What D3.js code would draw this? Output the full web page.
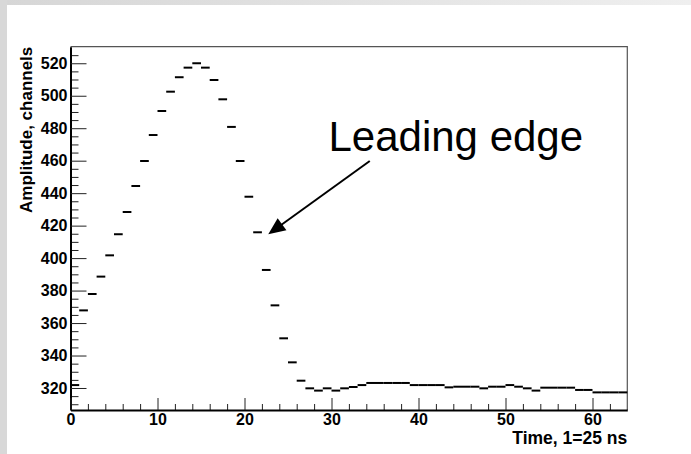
<!DOCTYPE html>
<html>
<head>
<meta charset="utf-8">
<script src="https://cdn.jsdelivr.net/npm/d3@7"></script>
<style>
  html, body { margin: 0; padding: 0; background: #ffffff; }
  svg { display: block; }
  text { font-family: "Liberation Sans", Arial, Helvetica, sans-serif; fill: #000; }
</style>
</head>
<body>
<svg id="chart" width="691" height="454"></svg>
<script>
// Time bins (1 bin = 25 ns), low edges 0..63
const binEdges = d3.range(0, 64);
// Mean amplitude per bin, ADC channels
const amplitudes = [
  321.8, 367.8, 377.9, 388.6, 401.7, 414.7, 428.4, 444.4, 459.8, 475.8,
  490.6, 502.5, 511.4, 517.3, 520.0, 517.3, 509.7, 497.8, 480.8, 459.8,
  437.8, 415.9, 392.7, 370.9, 350.6, 335.8, 324.5, 319.8, 318.4, 319.8,
  318.4, 319.8, 320.6, 321.8, 323.1, 323.1, 323.1, 323.1, 323.1, 321.8,
  321.8, 321.8, 321.8, 320.4, 320.8, 320.8, 320.8, 319.8, 320.8, 320.8,
  321.8, 320.8, 319.8, 318.4, 320.2, 320.2, 320.2, 320.2, 318.8, 318.8,
  317.3, 317.3, 317.3, 317.3
];
const xMajorTicks = [0, 10, 20, 30, 40, 50, 60];
const yMajorTicks = [320, 340, 360, 380, 400, 420, 440, 460, 480, 500, 520];
const xTitle = "Time, 1=25 ns";
const yTitle = "Amplitude, channels";
// Annotation in data units: label start and arrow from/to
const noteText = "Leading edge";
const notePos = [30.0, 466.2];
const arrowFrom = [34.4, 459.8];
const arrowTo = [22.73, 414.7];

const svg = d3.select("#chart");
const W = 691, H = 454;

// page backdrop: grey strips along the top and left
const defs = svg.append("defs");
const grad = defs.append("linearGradient").attr("id", "topStrip")
  .attr("x1", "0%").attr("x2", "100%").attr("y1", "0%").attr("y2", "0%");
grad.append("stop").attr("offset", "0%").attr("stop-color", "#d6d6d6");
grad.append("stop").attr("offset", "100%").attr("stop-color", "#efefef");
svg.append("rect").attr("x", 0).attr("y", 0).attr("width", W).attr("height", H).attr("fill", "#ffffff");
svg.append("rect").attr("x", 0).attr("y", 0).attr("width", W).attr("height", 5).attr("fill", "url(#topStrip)");
svg.append("rect").attr("x", 0).attr("y", 0).attr("width", 7).attr("height", H).attr("fill", "#d8d8d8");

const x = d3.scaleLinear().domain([0, 64]).range([70.5, 627.3]);
const y = d3.scaleLinear().domain([306.45, 530.2]).range([410, 46.7]);

// frame (top and right)
svg.append("path")
  .attr("d", `M${x(0)},${y.range()[1]} H${x(64)} V${y.range()[0]}`)
  .attr("fill", "none").attr("stroke", "#555").attr("stroke-width", 1.2);

// y axis: minor ticks every 5, major every 20, ticks pointing inside
const yMinor = d3.range(310, 530, 5).filter(v => v % 20 !== 0);
svg.append("g").attr("transform", `translate(${x(0)},0)`)
  .call(d3.axisLeft(y).tickValues(yMinor).tickSize(-8).tickSizeOuter(0).tickFormat(""))
  .call(g => g.select(".domain").remove())
  .call(g => g.selectAll(".tick line").attr("stroke", "#222"));
svg.append("g").attr("transform", `translate(${x(0)},0)`)
  .call(d3.axisLeft(y).tickValues(yMajorTicks).tickSize(-16).tickSizeOuter(0).tickPadding(3))
  .call(g => g.select(".domain").attr("stroke", "#000").attr("stroke-width", 2))
  .call(g => g.selectAll(".tick line").attr("stroke", "#222"))
  .call(g => g.selectAll(".tick text")
    .attr("font-family", "Liberation Sans, Arial, sans-serif")
    .attr("font-size", 16).attr("font-weight", "bold").attr("fill", "#000"));

// x axis: minor ticks every 2, major every 10
const xMinor = d3.range(2, 64, 2).filter(v => v % 10 !== 0);
svg.append("g").attr("transform", `translate(0,${y.range()[0]})`)
  .call(d3.axisBottom(x).tickValues(xMinor).tickSize(-6).tickSizeOuter(0).tickFormat(""))
  .call(g => g.select(".domain").remove())
  .call(g => g.selectAll(".tick line").attr("stroke", "#222"));
svg.append("g").attr("transform", `translate(0,${y.range()[0]})`)
  .call(d3.axisBottom(x).tickValues(xMajorTicks).tickSize(-12).tickSizeOuter(0).tickPadding(4))
  .call(g => g.select(".domain").attr("stroke", "#000").attr("stroke-width", 2))
  .call(g => g.selectAll(".tick line").attr("stroke", "#222"))
  .call(g => g.selectAll(".tick text")
    .attr("font-family", "Liberation Sans, Arial, sans-serif")
    .attr("font-size", 16).attr("font-weight", "bold").attr("fill", "#000"));

// axis titles
svg.append("text")
  .attr("transform", `translate(31.5,${y.range()[1]}) rotate(-90)`)
  .attr("text-anchor", "end")
  .attr("font-size", 17).attr("font-weight", "bold")
  .text(yTitle);
svg.append("text")
  .attr("x", x(64)).attr("y", 443.5)
  .attr("text-anchor", "end")
  .attr("font-size", 17.5).attr("font-weight", "bold")
  .text(xTitle);

// histogram: one horizontal segment per bin
svg.append("g").selectAll("line")
  .data(binEdges)
  .join("line")
  .attr("x1", d => x(d))
  .attr("x2", d => x(d + 1))
  .attr("y1", d => y(amplitudes[d]))
  .attr("y2", d => y(amplitudes[d]))
  .attr("stroke", "#000").attr("stroke-width", 2);

// annotation
svg.append("text")
  .attr("x", x(notePos[0]) - 3).attr("y", y(notePos[1]))
  .attr("font-size", 42)
  .text(noteText);

const ax0 = x(arrowFrom[0]), ay0 = y(arrowFrom[1]);
const ax1 = x(arrowTo[0]), ay1 = y(arrowTo[1]);
const len = Math.hypot(ax1 - ax0, ay1 - ay0);
const ux = (ax1 - ax0) / len, uy = (ay1 - ay0) / len;
const headL = 17, headW = 7.5;
const bx = ax1 - ux * headL, by = ay1 - uy * headL;
svg.append("line")
  .attr("x1", ax0).attr("y1", ay0).attr("x2", bx + ux * 2).attr("y2", by + uy * 2)
  .attr("stroke", "#000").attr("stroke-width", 2);
svg.append("path")
  .attr("d", `M${ax1},${ay1} L${bx - uy * headW},${by + ux * headW} L${bx + uy * headW},${by - ux * headW} Z`)
  .attr("fill", "#000");
</script>
</body>
</html>
